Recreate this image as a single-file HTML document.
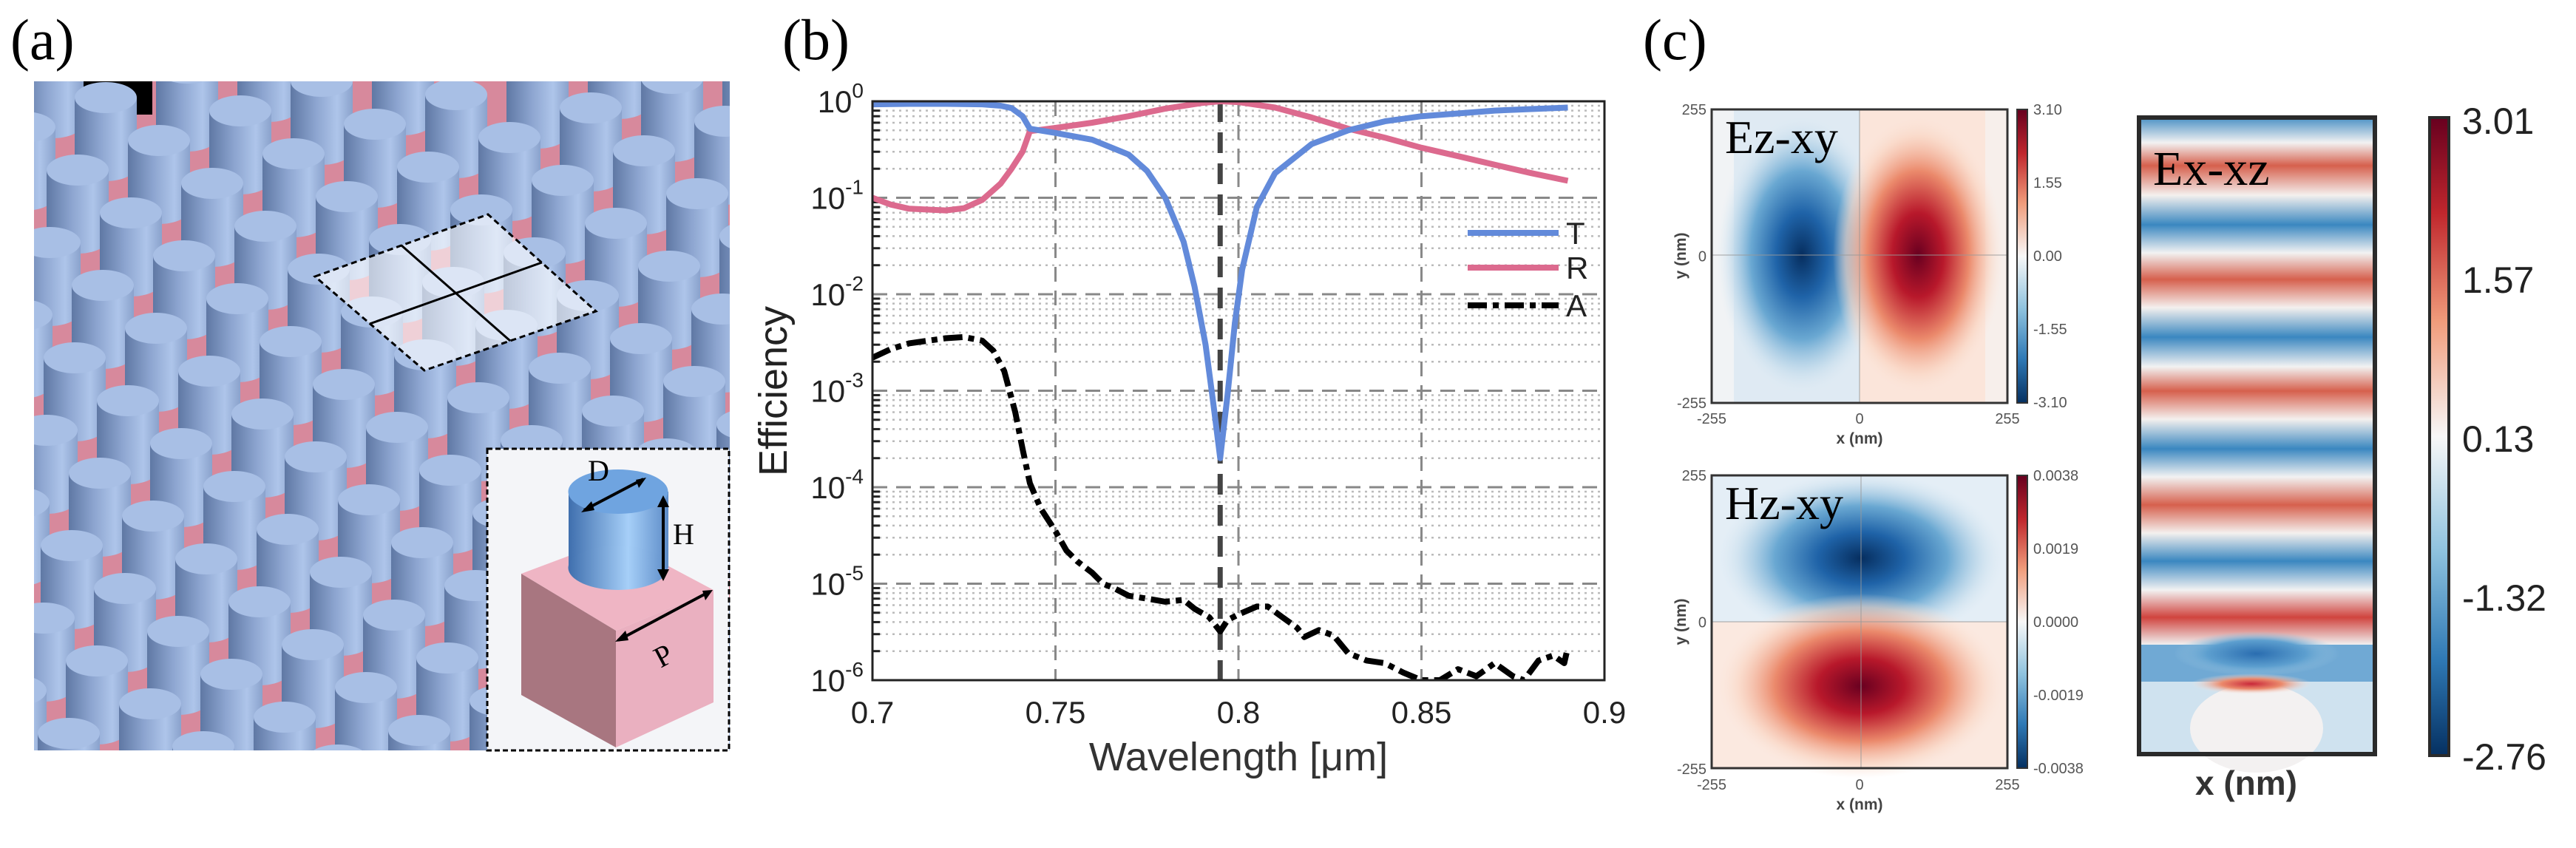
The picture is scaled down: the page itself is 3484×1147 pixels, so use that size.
<!DOCTYPE html>
<html><head><meta charset="utf-8"><style>
html,body{margin:0;padding:0;background:#fff;width:3484px;height:1147px;overflow:hidden;}
svg{display:block;}
text{font-family:"Liberation Sans",sans-serif;}
.serif{font-family:"Liberation Serif",serif;}
</style></head><body>
<svg id="fig" width="3484" height="1147" viewBox="0 0 3484 1147" xmlns="http://www.w3.org/2000/svg">
<defs>
  <linearGradient id="cylSide" x1="0" x2="1" y1="0" y2="0">
    <stop offset="0" stop-color="#5f78a4"/><stop offset="0.4" stop-color="#8ca4cf"/>
    <stop offset="0.75" stop-color="#aec5ea"/><stop offset="1" stop-color="#8aa2cc"/>
  </linearGradient>
  <linearGradient id="cylSide2" x1="0" x2="1" y1="0" y2="0">
    <stop offset="0" stop-color="#3f6fae"/><stop offset="0.6" stop-color="#a6cff8"/><stop offset="1" stop-color="#5d8cc8"/>
  </linearGradient>
  <linearGradient id="rdbu" x1="0" x2="0" y1="0" y2="1">
    <stop offset="0" stop-color="#67001f"/><stop offset="0.15" stop-color="#c0272d"/>
    <stop offset="0.32" stop-color="#f09c7b"/><stop offset="0.5" stop-color="#f7f7f7"/>
    <stop offset="0.68" stop-color="#8ec2de"/><stop offset="0.85" stop-color="#2f79b5"/>
    <stop offset="1" stop-color="#053061"/>
  </linearGradient>
  <radialGradient id="gBlue"><stop offset="0" stop-color="#062e5f"/><stop offset="0.3" stop-color="#1f63a8"/><stop offset="0.6" stop-color="#6aa8d2"/><stop offset="0.85" stop-color="#c4dcec" stop-opacity="0.6"/><stop offset="1" stop-color="#e0ecf5" stop-opacity="0"/></radialGradient>
  <radialGradient id="gRed"><stop offset="0" stop-color="#690020"/><stop offset="0.3" stop-color="#b8182b"/><stop offset="0.6" stop-color="#eb8a6c"/><stop offset="0.85" stop-color="#f9d3c0" stop-opacity="0.6"/><stop offset="1" stop-color="#fbe6dc" stop-opacity="0"/></radialGradient>
  <radialGradient id="gBlue2"><stop offset="0" stop-color="#2a6db0"/><stop offset="0.6" stop-color="#5d9fcf"/><stop offset="1" stop-color="#9cc7e2" stop-opacity="0"/></radialGradient>
  <radialGradient id="gRed2"><stop offset="0" stop-color="#c9283a"/><stop offset="0.5" stop-color="#eb8a6c"/><stop offset="1" stop-color="#f7e6e0" stop-opacity="0"/></radialGradient>
  <linearGradient id="stripes" gradientUnits="userSpaceOnUse" x1="0" y1="159" x2="0" y2="1020">
    <stop offset="0" stop-color="#4a90c4"/>
  </linearGradient>
  <clipPath id="clipA"><rect x="46" y="110" width="941" height="905"/></clipPath>
  <clipPath id="clipB"><rect x="1180" y="137" width="990" height="783"/></clipPath>
</defs>

<text class="serif" x="14" y="80" font-size="78">(a)</text>
<g id="panelA" clip-path="url(#clipA)">
  <rect x="46" y="110" width="941" height="905" fill="#d7899c"/>
  <rect x="46" y="110" width="160" height="45" fill="#000"/>
  <g id="cyls"></g>
  <polygon points="426,374 660,290 806,421 574,501" fill="#ffffff" fill-opacity="0.6" stroke="#000" stroke-width="3" stroke-dasharray="8,5"/>
  <line x1="543" y1="332" x2="690" y2="461" stroke="#000" stroke-width="3"/>
  <line x1="500" y1="438" x2="733" y2="355" stroke="#000" stroke-width="3"/>
</g>
<g>
  <rect x="659" y="607" width="327" height="408" fill="#f4f5f8" stroke="#000" stroke-width="3" stroke-dasharray="7,4"/>
  <polygon points="705,776 833,728 965,798 833,853" fill="#efb5c4"/>
  <polygon points="705,776 833,853 833,1011 705,940" fill="#a87680"/>
  <polygon points="833,853 965,798 965,950 833,1011" fill="#eab0c0"/>
  <rect x="769" y="665" width="135" height="103" fill="url(#cylSide2)"/>
  <ellipse cx="836" cy="768" rx="67.5" ry="30" fill="url(#cylSide2)"/>
  <ellipse cx="836" cy="665" rx="67.5" ry="30" fill="#6fa4e0"/>
  <line x1="790" y1="690" x2="870" y2="648" stroke="#000" stroke-width="4"/>
  <polygon points="786,693 800,678 804,690" fill="#000"/><polygon points="874,646 860,649 864,660" fill="#000"/>
  <line x1="897" y1="678" x2="897" y2="778" stroke="#000" stroke-width="4"/>
  <polygon points="897,670 889,686 905,686" fill="#000"/><polygon points="897,786 889,770 905,770" fill="#000"/>
  <line x1="836" y1="866" x2="960" y2="800" stroke="#000" stroke-width="4"/>
  <polygon points="832,868 846,853 850,866" fill="#000"/><polygon points="964,798 950,799 954,812" fill="#000"/>
  <text class="serif" x="795" y="650" font-size="40">D</text>
  <text class="serif" x="910" y="736" font-size="40">H</text>
  <text class="serif" x="885" y="900" font-size="40" transform="rotate(-28 897 885)">P</text>
</g>

<text class="serif" x="1058" y="80" font-size="78">(b)</text>
<g id="chartB"></g>

<text class="serif" x="2222" y="80" font-size="78">(c)</text>
<g id="ez">
  <rect x="2315" y="148" width="200" height="397" fill="#dfeaf3"/>
  <rect x="2515" y="148" width="200" height="397" fill="#fbe5da"/>
  <rect x="2315" y="148" width="30" height="397" fill="#f1f3f5"/>
  <rect x="2685" y="148" width="30" height="397" fill="#f7efeb"/>
  <ellipse cx="2437" cy="345" rx="115" ry="190" fill="url(#gBlue)"/>
  <ellipse cx="2594" cy="345" rx="115" ry="190" fill="url(#gRed)"/>
  <line x1="2515" y1="148" x2="2515" y2="545" stroke="#999" stroke-width="1.5" stroke-opacity="0.6"/>
  <line x1="2315" y1="345" x2="2715" y2="345" stroke="#999" stroke-width="1.5" stroke-opacity="0.6"/>
  <rect x="2315" y="148" width="400" height="397" fill="none" stroke="#333" stroke-width="3"/>
  <text class="serif" x="2333" y="207" font-size="64">Ez-xy</text>
  <rect x="2728" y="148" width="14" height="397" fill="url(#rdbu)" stroke="#333" stroke-width="2"/>
</g>
<g id="hz">
  <rect x="2315" y="643" width="400" height="198" fill="#e4eef6"/>
  <rect x="2315" y="841" width="400" height="198" fill="#fbe9e0"/>
  <ellipse cx="2517" cy="755" rx="195" ry="118" fill="url(#gBlue)"/>
  <ellipse cx="2517" cy="928" rx="195" ry="125" fill="url(#gRed)"/>
  <line x1="2517" y1="643" x2="2517" y2="1039" stroke="#999" stroke-width="1.5" stroke-opacity="0.6"/>
  <line x1="2315" y1="841" x2="2715" y2="841" stroke="#999" stroke-width="1.5" stroke-opacity="0.6"/>
  <rect x="2315" y="643" width="400" height="396" fill="none" stroke="#333" stroke-width="3"/>
  <text class="serif" x="2333" y="702" font-size="64">Hz-xy</text>
  <rect x="2728" y="643" width="14" height="396" fill="url(#rdbu)" stroke="#333" stroke-width="2"/>
</g>
<g id="smallTicks" fill="#555" font-size="20"></g>
<g id="ex">
  <rect x="2893" y="159" width="319" height="861" fill="url(#stripes)"/>
  <rect x="2893" y="872" width="319" height="148" fill="#cfe2ef"/>
  <rect x="2893" y="872" width="319" height="50" fill="#5f9fcf" opacity="0.85"/>
  <ellipse cx="3052" cy="985" rx="90" ry="60" fill="#f3f1f1"/>
  <ellipse cx="3052" cy="884" rx="112" ry="30" fill="url(#gBlue2)"/>
  <ellipse cx="3045" cy="925" rx="82" ry="14" fill="url(#gRed2)"/>
  <rect x="2893" y="159" width="319" height="861" fill="none" stroke="#2a2a2a" stroke-width="6"/>
  <text class="serif" x="2912" y="250" font-size="66">Ex-xz</text>
  <rect x="3286" y="159" width="26" height="863" fill="url(#rdbu)" stroke="#2a2a2a" stroke-width="4"/>
  <text x="3038" y="1075" font-size="46" font-weight="bold" fill="#333" text-anchor="middle">x (nm)</text>
</g>
<g id="exTicks" font-size="50" fill="#222"></g>
</svg>
<script>
const NS='http://www.w3.org/2000/svg';
function mk(tag,attrs,parent,txt){const e=document.createElementNS(NS,tag);for(const k in attrs)e.setAttribute(k,attrs[k]);if(txt!==undefined)e.textContent=txt;parent.appendChild(e);return e;}

const wlT=[0.700,0.710,0.720,0.730,0.735,0.738,0.741,0.743,0.750,0.760,0.770,0.775,0.780,0.785,0.788,0.791,0.793,0.795,0.797,0.799,0.801,0.805,0.810,0.820,0.830,0.840,0.850,0.870,0.890];
const valT=[0.93,0.94,0.94,0.93,0.90,0.85,0.70,0.52,0.47,0.40,0.28,0.19,0.10,0.035,0.012,0.003,0.0008,0.0002,0.0009,0.005,0.018,0.08,0.18,0.36,0.50,0.62,0.70,0.80,0.86];
const wlR=[0.700,0.705,0.710,0.720,0.725,0.730,0.735,0.738,0.741,0.743,0.750,0.760,0.770,0.780,0.790,0.795,0.800,0.810,0.820,0.830,0.840,0.850,0.860,0.870,0.880,0.890];
const valR=[0.10,0.085,0.077,0.074,0.078,0.095,0.14,0.20,0.30,0.49,0.53,0.60,0.70,0.84,0.96,1.0,0.98,0.86,0.68,0.52,0.42,0.33,0.27,0.22,0.18,0.15];
const wlA=[0.700,0.705,0.710,0.720,0.725,0.730,0.733,0.736,0.739,0.741,0.743,0.746,0.750,0.753,0.756,0.760,0.763,0.766,0.770,0.775,0.780,0.785,0.788,0.792,0.795,0.797,0.800,0.805,0.808,0.812,0.816,0.818,0.822,0.826,0.830,0.835,0.840,0.845,0.850,0.855,0.860,0.865,0.870,0.875,0.878,0.882,0.886,0.889,0.890];
const valA=[2.2e-3,2.7e-3,3.1e-3,3.5e-3,3.6e-3,3.3e-3,2.6e-3,1.6e-3,6e-4,2.5e-4,1.1e-4,6e-5,3.5e-5,2.2e-5,1.7e-5,1.3e-5,1.0e-5,9e-6,7.5e-6,7e-6,6.5e-6,6.8e-6,5.5e-6,4.5e-6,3.2e-6,4.2e-6,4.8e-6,5.8e-6,5.8e-6,4.5e-6,3.5e-6,2.8e-6,3.3e-6,2.9e-6,1.9e-6,1.6e-6,1.5e-6,1.2e-6,1.0e-6,1.0e-6,1.3e-6,1.1e-6,1.5e-6,1.1e-6,1.0e-6,1.6e-6,1.8e-6,1.5e-6,2.2e-6];
const xTicks=[0.7,0.75,0.8,0.85,0.9];
const xTickLabels=['0.7','0.75','0.8','0.85','0.9'];
const yExp=[0,-1,-2,-3,-4,-5,-6];
const resonance=[0.795];

const PL=1180,PR=2170,PT=137,PB=920;
function xs(w){return PL+(w-0.7)/0.2*(PR-PL);}
function ys(v){return PT+(0-Math.log10(v))/6*(PB-PT);}
const g=document.getElementById('chartB');
for(const e of yExp){ if(e===0)continue; for(let m=2;m<=9;m++){const y=ys(m*Math.pow(10,e));
  const l=mk('line',{x1:PL,x2:PR,y1:y,y2:y,stroke:'#bbb','stroke-width':2.5,'stroke-dasharray':'3,6'},g);
  
  
  const t=mk('line',{x1:PL,x2:PL+10,y1:y,y2:y,stroke:'#222','stroke-width':3},g);
  
  }}
for(const e of yExp){const y=ys(Math.pow(10,e));
  const l=mk('line',{x1:PL,x2:PR,y1:y,y2:y,stroke:'#888','stroke-width':3,'stroke-dasharray':'20,12'},g);
  
  
  const t=mk('text',{x:PL-12,y:y+15,'font-size':42,'text-anchor':'end',fill:'#222'},g);
  
  
  t.appendChild(document.createTextNode('10'));
  mk('tspan',{dy:-20,'font-size':28},t,String(e));}
xTicks.forEach((w,i)=>{const x=xs(w);
  if(i>0 && i<xTicks.length-1){const l=mk('line',{x1:x,x2:x,y1:PT,y2:PB,stroke:'#888','stroke-width':3,'stroke-dasharray':'20,12'},g);
  
  }
  const t=mk('text',{x:x,y:978,'font-size':42,'text-anchor':'middle',fill:'#222'},g,xTickLabels[i]);
  
  });
resonance.forEach(w=>{const l=mk('line',{x1:xs(w),x2:xs(w),y1:PT,y2:PB,stroke:'#444','stroke-width':7,'stroke-dasharray':'28,14'},g);
  
  });
function path(wl,val){return wl.map((w,i)=>(i?'L':'M')+xs(w).toFixed(1)+','+ys(val[i]).toFixed(1)).join(' ');}
const cg=mk('g',{'clip-path':'url(#clipB)'},g);
const pA=mk('path',{d:path(wlA,valA),fill:'none',stroke:'#000','stroke-width':8,'stroke-dasharray':'26,8,8,8','stroke-linejoin':'round'},cg);


const pR=mk('path',{d:path(wlR,valR),fill:'none',stroke:'#dc6a8e','stroke-width':8,'stroke-linejoin':'round'},cg);


const pT=mk('path',{d:path(wlT,valT),fill:'none',stroke:'#628ada','stroke-width':8,'stroke-linejoin':'round'},cg);


const fr=mk('rect',{x:PL,y:PT,width:PR-PL,height:PB-PT,fill:'none',stroke:'#222','stroke-width':3},g);


const legendNames=['T','R','A'];const legendColors=['#628ada','#dc6a8e','#000'];const legendDash=['none','none','26,8,8,8'];
legendNames.forEach((n,i)=>{const y=[315,362,413][i];
  const lg=mk('g',{},g);
  
  
  mk('line',{x1:1985,x2:2108,y1:y,y2:y,stroke:legendColors[i],'stroke-width':8,'stroke-dasharray':legendDash[i]},lg);
  mk('text',{x:2118,y:y+15,'font-size':42,fill:'#222'},lg,n);});
const xt=mk('text',{x:1675,y:1042,'font-size':54,'text-anchor':'middle',fill:'#333'},g,'Wavelength [μm]');


const yt=mk('text',{x:0,y:0,'font-size':54,'text-anchor':'middle',fill:'#222',transform:'translate(1064,529) rotate(-90)'},g,'Efficiency');



const cyl=document.getElementById('cyls');
const items=[];
for(let i=-4;i<18;i++)for(let j=-12;j<8;j++){const cx=143+i*72-j*110;const cy=132+i*58+j*40;
  if(cx>-60 && cx<1050 && cy>40 && cy<1060) items.push([cx,cy]);}
items.sort((a,b)=>a[1]-b[1]);
for(const [cx,cy] of items){const r=42,h=92;
  const c=mk('g',{},cyl);
  
  
  mk('rect',{x:cx-r,y:cy,width:2*r,height:h,fill:'url(#cylSide)'},c);
  mk('ellipse',{cx:cx,cy:cy+h,rx:r,ry:21,fill:'url(#cylSide)'},c);
  mk('ellipse',{cx:cx,cy:cy,rx:r,ry:21,fill:'#a8bfe5'},c);}

const st=document.getElementById('smallTicks');
const ezCb=['3.10','1.55','0.00','-1.55','-3.10'];
const hzCb=['0.0038','0.0019','0.0000','-0.0019','-0.0038'];
const axisTicks=['255','0','-255'];
[[148,ezCb],[643,hzCb]].forEach(([top,labs])=>{
  labs.forEach((l,i)=>{const y=top+i*99;const t=mk('text',{x:2750,y:y+7},st,l);
    
    });
  axisTicks.forEach((l,i)=>{const y=top+i*198.5;const t=mk('text',{x:2308,y:y+7,'text-anchor':'end'},st,l);
    
    });
  ['-255','0','255'].forEach((l,i)=>{const t=mk('text',{x:2315+i*200,y:top+425,'text-anchor':'middle'},st,l);
    
    });
  const xl=mk('text',{x:2515,y:top+452,'text-anchor':'middle','font-weight':'bold','font-size':21,fill:'#444'},st,'x (nm)');
  
  
  const yl=mk('text',{x:0,y:0,'text-anchor':'middle','font-weight':'bold','font-size':21,fill:'#444',transform:'translate(2280,'+(top+198)+') rotate(-90)'},st,'y (nm)');
  
  
});
const exCb=['3.01','1.57','0.13','-1.32','-2.76'];
const exT=document.getElementById('exTicks');
exCb.forEach((l,i)=>{const y=163+i*215;const t=mk('text',{x:3330,y:y+18},exT,l);
  
  });

const stripeY=[159,193,224,264,304,342,378,416,456,496,529,567,607,645,683,721,759,798,835,872,1020];
const stripeC=['#4a90c4','#f2f2f2','#d6604d','#f4f0ee','#3a87c0','#f2f2f2','#d6604d','#f4f0ee','#3a87c0','#f2f2f2','#d6604d','#f4f0ee','#3a87c0','#f2f2f2','#d6604d','#f4f0ee','#3a87c0','#f2f2f2','#d0443e','#f0f0f0','#cfe2ef'];
const sg=document.getElementById('stripes');
while(sg.firstChild)sg.removeChild(sg.firstChild);
stripeY.forEach((y,i)=>mk('stop',{offset:((y-159)/861).toFixed(4),'stop-color':stripeC[i]},sg));
</script>
</body></html>
